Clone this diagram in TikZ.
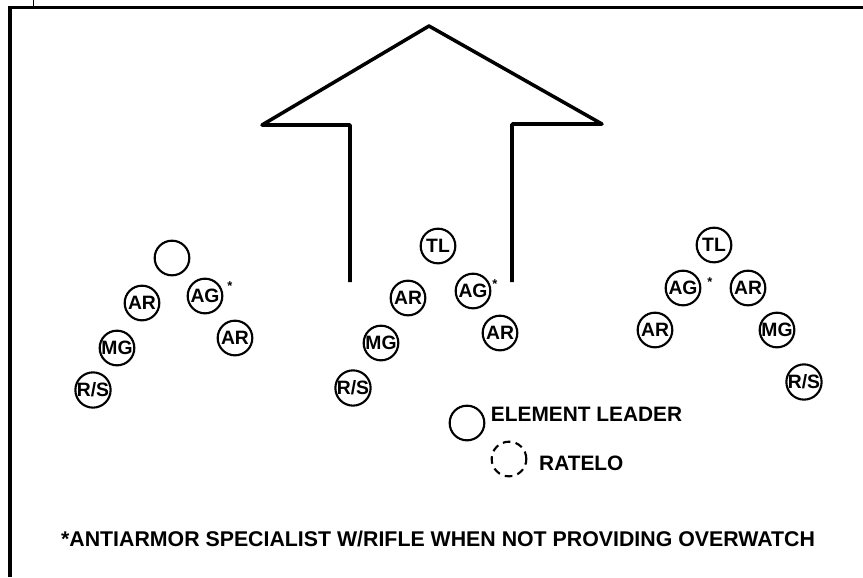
\documentclass[tikz,border=0pt]{standalone}
\usepackage{fontspec}
\setmainfont{Liberation Sans}
\begin{document}
\begin{tikzpicture}[x=0.03cm,y=-0.03cm,
  mem/.style={circle,draw,line width=1.8pt,minimum size=1.04cm,inner sep=0pt,
    font=\fontsize{16.5}{16.5}\selectfont\bfseries},
  rto/.style={mem,dash pattern=on 6.5pt off 4.5pt},
  arrowline/.style={line width=3pt,line join=round},
  frameline/.style={line width=2.8pt},
  txt/.style={inner sep=0pt,font=\fontsize{17.8}{17.8}\selectfont\bfseries},
  note/.style={inner sep=0pt,font=\fontsize{18.2}{18.2}\selectfont\bfseries},
  star/.style={inner sep=0pt,anchor=base,font=\fontsize{11}{11}\selectfont\bfseries}]
\useasboundingbox (0,0) rectangle (863,577);
% frame
\draw[frameline] (863,7.3) -- (10,7.3) -- (10,577);
\draw[line width=1.7pt] (33.5,0) -- (33.5,7.3);
% movement arrow
\draw[arrowline] (350,282) -- (350,125) -- (262,125) -- (429,26) -- (602,124) -- (512,124) -- (512,282);
% left element
\node[mem] (L0) at (172,258) {};
\node[mem] (LAG) at (205,296) {AG};
\node[mem] (LAR1) at (142,303) {AR};
\node[mem] (LAR2) at (235,338) {AR};
\node[mem] (LMG) at (117,348) {MG};
\node[mem] (LRS) at (93,390) {R/S};
\node[star] (Ls) at (230,290.5) {*};
% center element
\node[mem] (CTL) at (438,246) {TL};
\node[mem] (CAR1) at (408,298) {AR};
\node[mem] (CAG) at (473,291) {AG};
\node[mem] (CMG) at (381,343) {MG};
\node[mem] (CAR2) at (500,333) {AR};
\node[mem] (CRS) at (353,388) {R/S};
\node[star] (Cs) at (495,288.5) {*};
% right element
\node[mem] (RTL) at (714,245) {TL};
\node[mem] (RAG) at (683,288) {AG};
\node[mem] (RAR1) at (748,288) {AR};
\node[mem] (RAR2) at (655,330) {AR};
\node[mem] (RMG) at (777,330) {MG};
\node[mem] (RRS) at (804,382) {R/S};
\node[star] (Rs) at (710,286.5) {*};
% legend
\node[mem] (EL) at (467,423) {};
\node[txt,anchor=base west] (ELt) at (490.7,421) {ELEMENT LEADER};
\node[rto] (RT) at (509,459) {};
\node[txt,anchor=base west] (RTt) at (539,470) {RATELO};
% note
\node[note,anchor=base] (N) at (438,546.5) {*ANTIARMOR SPECIALIST W/RIFLE WHEN NOT PROVIDING OVERWATCH};
\end{tikzpicture}
\end{document}
